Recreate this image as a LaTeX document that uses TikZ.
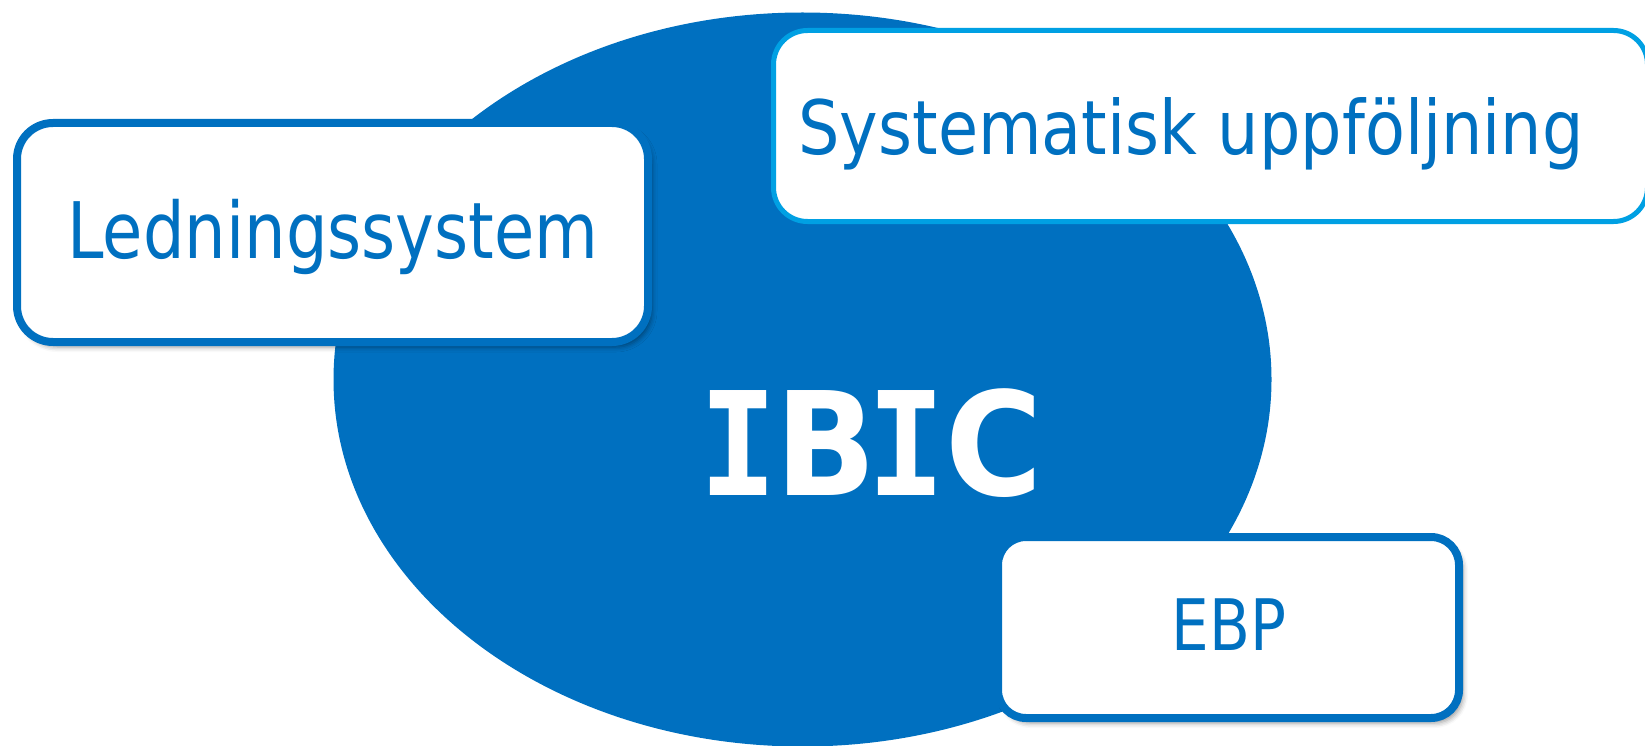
\documentclass[tikz,border=0pt]{standalone}
\usepackage{fontspec}
\setmainfont{DejaVu Sans}
\newfontfamily\boxfont[FakeStretch=0.84]{DejaVu Sans}
\newfontfamily\sysfont[FakeStretch=0.87]{DejaVu Sans}
\newfontfamily\ibicsans[FakeStretch=0.92]{DejaVu Sans}
\newfontfamily\ibicmono[FakeStretch=0.90]{DejaVu Sans Mono}
\usetikzlibrary{shapes.geometric,shadows.blur}
\definecolor{ibicblue}{HTML}{0070C0}
\definecolor{lightborder}{HTML}{00A0E3}
\begin{document}
\begin{tikzpicture}[x=1pt,y=-1pt,
  boxshape/.style={rectangle, draw=ibicblue, fill=white, line width=8pt, inner sep=0pt},
  boxshadow/.style={blur shadow={shadow xshift=4pt, shadow yshift=-5pt, shadow opacity=40, shadow blur radius=5pt}},
  boxtext/.style={anchor=base, inner sep=0pt, text=ibicblue}]
\useasboundingbox (0,0) rectangle (1645,746);
\node (ibic) [ellipse, fill=ibicblue, inner sep=0pt, minimum width=938pt, minimum height=734pt] at (802.5,379.5) {};
\node (ibictext) [anchor=base, inner sep=0pt, text=white, font=\fontsize{144}{160}\selectfont\bfseries] at (871,495) {{\ibicmono I}\kern-2pt{\ibicsans B}\kern-9pt{\ibicmono I}{\ibicsans C}};
\node (led) [boxshape, boxshadow, rounded corners=36pt, minimum width=631pt, minimum height=219pt] at (332.5,232.5) {};
\node (ledtext) [boxtext, font=\boxfont\fontsize{78}{90}\selectfont] at (333,258) {Ledningssystem};
\node (sys) [boxshape, draw=lightborder, line width=5pt, rounded corners=34pt, minimum width=874pt, minimum height=191pt] at (1210.5,126) {};
\node (systext) [boxtext, font=\sysfont\fontsize{75}{86}\selectfont] at (1191,155) {Systematisk uppföljning};
\node (ebp) [boxshape, boxshadow, rounded corners=28pt, minimum width=461pt, minimum height=181pt] at (1228.5,627.5) {};
\node (ebptext) [boxtext, font=\boxfont\fontsize{71}{82}\selectfont] at (1229,650) {EBP};
\end{tikzpicture}
\end{document}
